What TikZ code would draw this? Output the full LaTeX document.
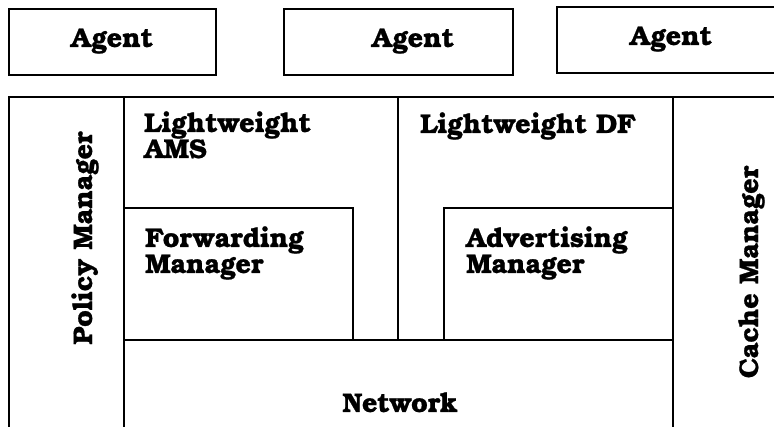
\documentclass[tikz,border=0pt]{standalone}
\usepackage{fontspec}
\newfontfamily\bkfont[FakeBold=0.8]{texgyrebonum-bold.otf}
\begin{document}
\begin{tikzpicture}[x=1pt,y=-1pt,
  frame/.style={draw=black,line width=1.8pt},
  lbl/.style={font=\bkfont\fontsize{27}{26}\selectfont,inner sep=0pt,text=black},
  blk/.style={lbl,align=left,anchor=base west}]
\clip (0,0) rectangle (774,427);
\fill[white] (0,0) rectangle (774,427);

% agents
\draw[frame] (9,9) rectangle (216,75);
\draw[frame] (284,9) rectangle (513,75);
\draw[frame] (557,7) rectangle (790,73);
\node[lbl,anchor=base] (ag1) at (112,47) {Agent};
\node[lbl,anchor=base] (ag2) at (413,47) {Agent};
\node[lbl,anchor=base] (ag3) at (671,45) {Agent};

% platform frame
\draw[frame] (790,97) -- (9,97) -- (9,440);
\draw[frame] (124,97) -- (124,440);
\draw[frame] (673,97) -- (673,440);
\draw[frame] (398,97) -- (398,340);
\draw[frame] (124,340) -- (673,340);
\draw[frame] (124,208) -- (353,208) -- (353,340);
\draw[frame] (444,340) -- (444,208) -- (673,208);

% labels (multi-line blocks are placed by the baseline of their last line)
\node[lbl,anchor=base,rotate=90] (pm) at (92,238) {Policy Manager};
\node[lbl,anchor=base,rotate=90] (cm) at (758,272) {Cache Manager};
\node[blk] (ams) at (144,158) {Lightweight\\AMS};
\node[blk] (df) at (420,133) {Lightweight DF};
\node[blk] (fwd) at (145,273) {Forwarding\\Manager};
\node[blk] (adv) at (466,273) {Advertising\\Manager};
\node[lbl,anchor=base] (net) at (400,412) {Network};
\end{tikzpicture}
\end{document}
